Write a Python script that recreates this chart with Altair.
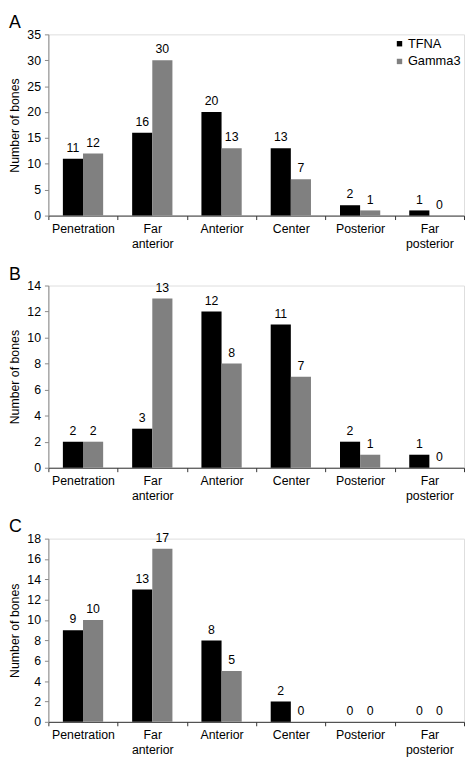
import altair as alt
import pandas as pd

categories = ["Penetration", "Far anterior", "Anterior", "Center", "Posterior", "Far posterior"]
series = ["TFNA", "Gamma3"]
colors = ["#000000", "#808080"]

tfna_a = [11, 16, 20, 13, 2, 1]
gamma_a = [12, 30, 13, 7, 1, 0]
tfna_b = [2, 3, 12, 11, 2, 1]
gamma_b = [2, 13, 8, 7, 1, 0]
tfna_c = [9, 13, 8, 2, 0, 0]
gamma_c = [10, 17, 5, 0, 0, 0]

FONT = "Liberation Sans"
FS = 12.5


def make_df(tfna, gamma):
    rows = []
    for c, t, g in zip(categories, tfna, gamma):
        rows.append({"cat": c, "series": "TFNA", "value": t})
        rows.append({"cat": c, "series": "Gamma3", "value": g})
    return pd.DataFrame(rows)


def panel(letter, tfna, gamma, ymax, ystep, height, show_legend):
    df = make_df(tfna, gamma)
    x = alt.X(
        "cat:N", sort=categories, title=None,
        scale=alt.Scale(paddingInner=0, paddingOuter=0),
        axis=alt.Axis(labelAngle=0, labelExpr="split(datum.label, ' ')",
                      tickBand="extent", tickSize=4, labelPadding=3,
                      labelLineHeight=15, domainColor="#333333", tickColor="#333333",
                      labelFontSize=FS, labelFont=FONT, labelColor="#000000"),
    )
    xoff = alt.XOffset("series:N", sort=series,
                       scale=alt.Scale(paddingInner=0, paddingOuter=0.72))
    y = alt.Y(
        "value:Q",
        scale=alt.Scale(domain=[0, ymax], nice=False),
        axis=alt.Axis(values=list(range(0, ymax + 1, ystep)), title="Number of bones",
                      grid=False, tickSize=4, labelPadding=4, titlePadding=5,
                      domainColor="#888888", tickColor="#888888",
                      labelFontSize=FS, labelFont=FONT, labelColor="#000000",
                      titleFontSize=FS, titleFont=FONT, titleFontWeight="normal",
                      titleColor="#000000"),
    )
    if show_legend:
        leg = alt.Legend(orient="top-right", offset=0, title=None,
                         symbolType="square", symbolSize=30, symbolStrokeWidth=0,
                         labelFontSize=13, labelFont=FONT, labelColor="#000000",
                         rowPadding=4, labelOffset=2, padding=3)
    else:
        leg = None
    color = alt.Color("series:N", sort=series,
                      scale=alt.Scale(domain=series, range=colors), legend=leg)
    bars = alt.Chart(df).mark_bar().encode(x=x, xOffset=xoff, y=y, color=color)
    text = alt.Chart(df).mark_text(baseline="bottom", dy=-4, fontSize=FS, font=FONT,
                                   color="#000000").encode(
        x=x, xOffset=xoff, y=y, text="value:Q")
    return alt.layer(bars, text).properties(
        width=422, height=height,
        title=alt.TitleParams(letter, anchor="start", frame="bounds", fontSize=18,
                              font=FONT, fontWeight="normal", color="#000000", offset=-4),
    )


chart = alt.vconcat(
    panel("A", tfna_a, gamma_a, 35, 5, 184, True),
    panel("B", tfna_b, gamma_b, 14, 2, 185, False),
    panel("C", tfna_c, gamma_c, 18, 2, 186, False),
    spacing=15,
).resolve_legend(color="independent").properties(
    padding={"left": 0, "top": 0, "right": 0, "bottom": 0}
).configure_view(stroke=None).configure(background="#ffffff")

chart.save("out.html", embed_options={"renderer": "svg", "actions": False})
